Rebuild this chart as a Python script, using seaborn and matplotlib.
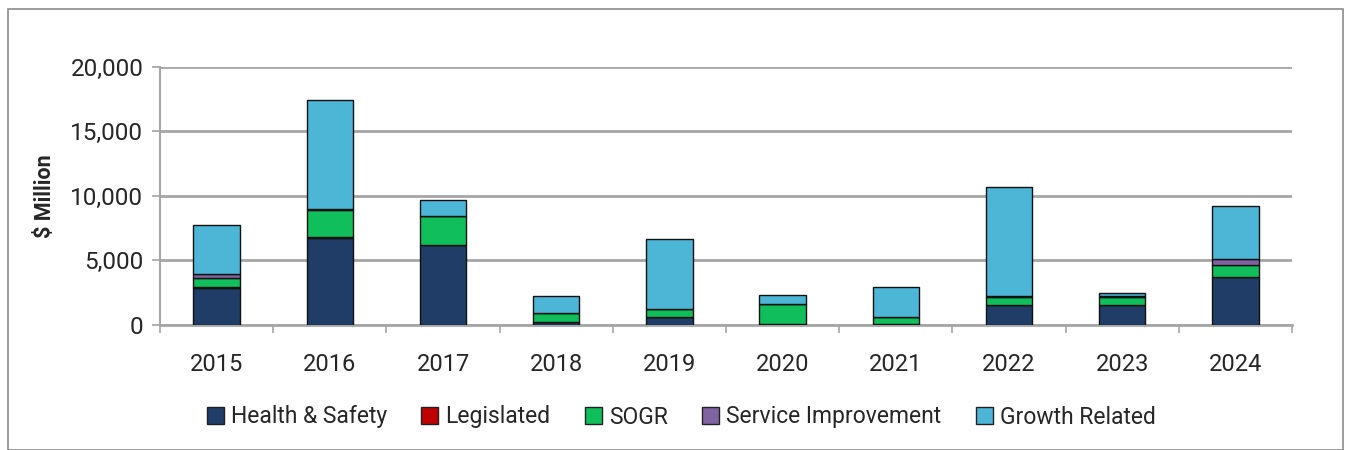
import matplotlib
matplotlib.use("Agg")
import matplotlib.pyplot as plt
import seaborn as sns
import pandas as pd
import numpy as np
from matplotlib.patches import Rectangle, Patch
from matplotlib.ticker import FuncFormatter, FixedLocator

years = ["2015", "2016", "2017", "2018", "2019", "2020", "2021", "2022", "2023", "2024"]
health_safety = [2900, 6760, 6200, 200, 600, 50, 50, 1520, 1520, 3720]
legislated = [20, 20, 20, 10, 10, 10, 10, 10, 20, 20]
sogr = [700, 2140, 2200, 700, 600, 1550, 550, 670, 620, 920]
service_improvement = [300, 30, 30, 20, 20, 20, 20, 20, 100, 440]
growth_related = [3800, 8500, 1250, 1350, 5400, 700, 2350, 8500, 200, 4080]

series_names = ["Health & Safety", "Legislated", "SOGR", "Service Improvement", "Growth Related"]
series_values = [health_safety, legislated, sogr, service_improvement, growth_related]
colors = ["#1F3D66", "#C00000", "#10BE5C", "#8064A2", "#4DB5D6"]

sns.set_theme(style="white")
plt.rcParams["font.family"] = ["Roboto", "DejaVu Sans"]

fig = plt.figure(figsize=(13.46, 4.5), dpi=100)
ax = fig.add_axes([160 / 1346, 1 - 325 / 450, (1292 - 160) / 1346, (325 - 66.7) / 450])

df = pd.DataFrame({"year": years})
bottom = np.zeros(len(years))
for name, vals, col in zip(series_names, series_values, colors):
    df[name] = vals
    sns.barplot(data=df, x="year", y=name, color=col, width=0.41, bottom=bottom,
                edgecolor="#111111", linewidth=1.0, saturation=1, ax=ax, zorder=3)
    bottom = bottom + np.array(vals)

ax.set_ylim(0, 20000)
ax.set_xlim(-0.5, 9.5)
ax.set_yticks([0, 5000, 10000, 15000, 20000])
ax.yaxis.set_major_formatter(FuncFormatter(lambda v, p: f"{int(v):,}"))
ax.grid(axis="y", color="#A6A6A6", linewidth=2, zorder=0)
ax.grid(axis="x", visible=False)
for s in ["top", "right"]:
    ax.spines[s].set_visible(False)
ax.spines["left"].set_color("#A6A6A6")
ax.spines["left"].set_linewidth(1.5)
ax.spines["bottom"].set_color("#A6A6A6")
ax.spines["bottom"].set_linewidth(2)
ax.set_xlabel("")
ax.set_ylabel("$ Million", fontsize=15.5, fontweight="bold", labelpad=10)

ax.tick_params(axis="y", which="major", left=True, length=6, color="#A6A6A6", labelsize=17.5, pad=6)
ax.tick_params(axis="x", which="major", bottom=False, labelsize=17, pad=14)
ax.xaxis.set_minor_locator(FixedLocator(np.arange(-0.5, 10, 1.0)))
ax.tick_params(axis="x", which="minor", bottom=True, length=6, color="#A6A6A6", width=1.2)

handles = [Patch(facecolor=c, edgecolor="#222222", linewidth=1) for c in colors]
fig.legend(handles, series_names, loc="center", bbox_to_anchor=(0.506, 1 - 417 / 450), ncol=5,
           frameon=False, fontsize=16.5, handlelength=0.75, handleheight=0.75,
           handletextpad=0.3, columnspacing=1.5)

fig.patches.append(Rectangle((7.5 / 1346, 0), (1343 - 7.5) / 1346, 1 - 9 / 450,
                             transform=fig.transFigure, fill=False, edgecolor="#8C8C8C",
                             linewidth=1.2))

fig.savefig("out.png", dpi=100)
